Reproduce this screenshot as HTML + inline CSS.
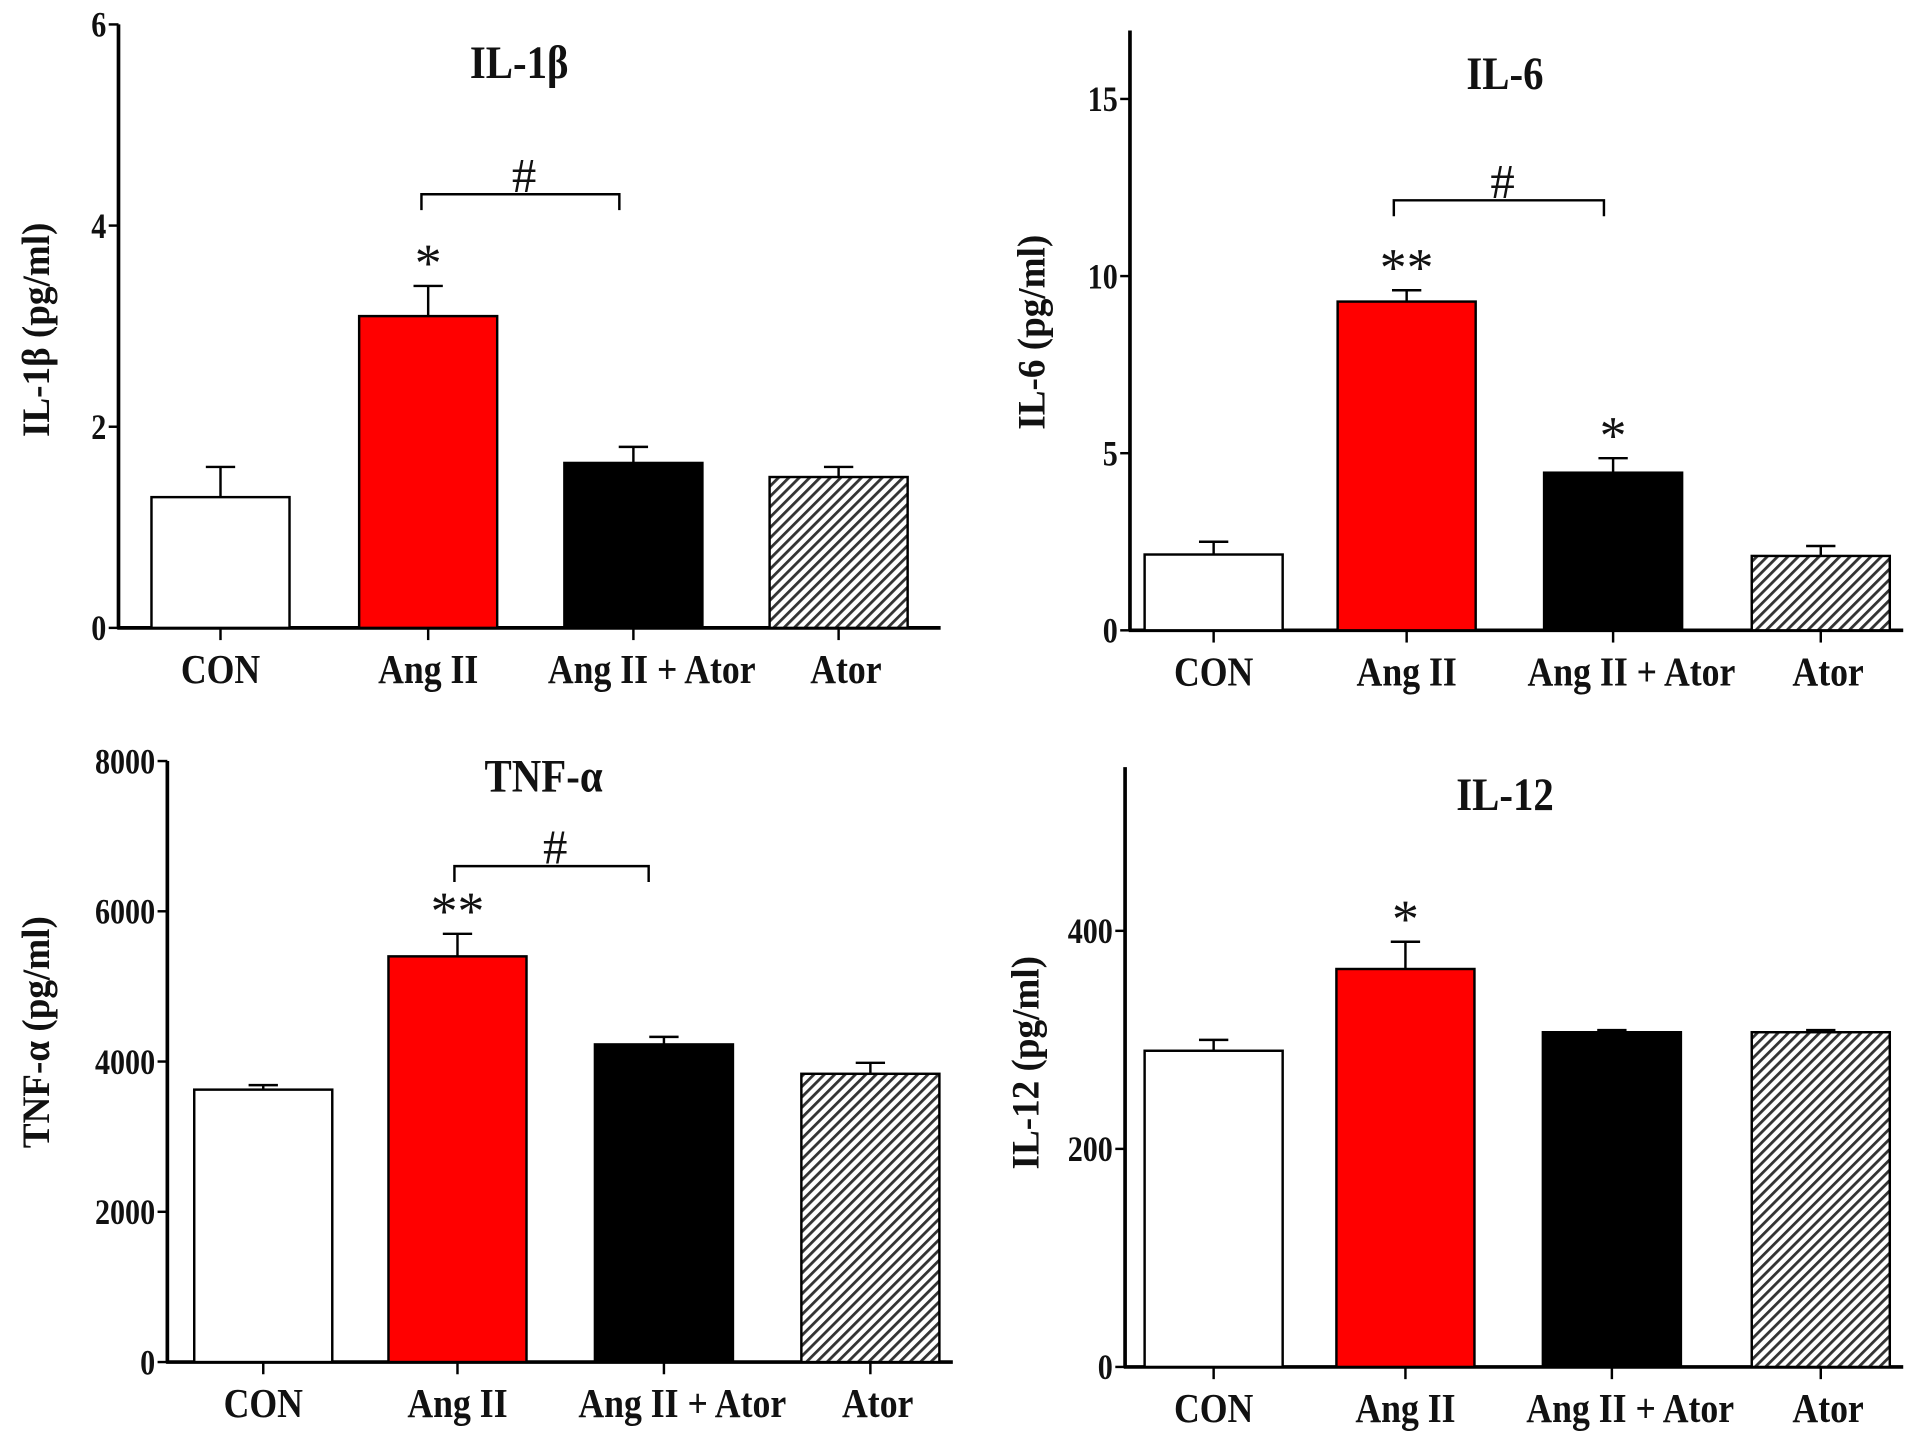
<!DOCTYPE html>
<html><head><meta charset="utf-8"><style>
html,body{margin:0;padding:0;background:#fff}
svg{display:block}
text{font-family:"Liberation Serif",serif;font-weight:bold;fill:#111}
</style></head><body>
<svg id="c" width="1913" height="1450" viewBox="0 0 1566 1187" preserveAspectRatio="none" xmlns="http://www.w3.org/2000/svg">
<defs>
<pattern id="hatch" patternUnits="userSpaceOnUse" width="6" height="6" patternTransform="rotate(45)">
<rect width="6" height="6" fill="#fff"/><rect x="0" width="2.3" height="6" fill="#333"/>
</pattern>
</defs>
</svg>
<script>
const categories=["CON","Ang II","Ang II + Ator","Ator"];
const il1bValues=[1.3,3.1,1.64,1.5];
const il1bErrors=[0.3,0.3,0.16,0.1];
const il1bTicks=[0,2,4,6];
const il6Values=[2.14,9.28,4.45,2.1];
const il6Errors=[0.36,0.32,0.41,0.28];
const il6Ticks=[0,5,10,15];
const tnfValues=[3626,5400,4228,3837];
const tnfErrors=[60,300,100,146];
const tnfTicks=[0,2000,4000,6000,8000];
const il12Values=[290,365,307,307];
const il12Errors=[10,25,2,2];
const il12Ticks=[0,200,400];
const fills=["#fff","#ff0000","#000","url(#hatch)"];
const svg=document.getElementById('c');
const NS="http://www.w3.org/2000/svg";
function mk(tag,attrs,parent){const e=document.createElementNS(NS,tag);for(const k in attrs)e.setAttribute(k,attrs[k]);(parent||svg).appendChild(e);return e;}
function txt(s,x,y,size,parent,anchor,rot,sx){
  sx=sx||1;
  const t=mk('text',{x:0,y:0,'font-size':size,'text-anchor':anchor||'middle'},parent);
  t.setAttribute('transform',`translate(${x} ${y})`+(rot?' rotate(-90)':'')+` scale(${sx} 1)`);
  t.textContent=s;return t;}
function panel(p){
  const g=mk('g',{});
  
  
  const y=v=>p.y0-(v/p.max)*(p.y0-p.yTop);
  const ax=mk('line',{x1:p.ax,y1:p.yTop,x2:p.ax,y2:p.y0+1,stroke:'#000','stroke-width':3},g);
  
  
  const xa=mk('line',{x1:p.ax-1,y1:p.y0,x2:p.xEnd,y2:p.y0,stroke:'#000','stroke-width':3},g);
  
  
  p.ticks.forEach(t=>{
    mk('line',{x1:p.ax-8,y1:y(t),x2:p.ax,y2:y(t),stroke:'#000','stroke-width':2},g);
    const tl=txt(String(t),p.ax-10,y(t)+10,29,g,'end',false,0.85);
    
    
  });
  p.values.forEach((v,i)=>{
    const x0=p.bx[i],w=p.bw,cx=x0+w/2;
    const top=y(v),et=y(v+p.errors[i]);
    mk('line',{x1:cx,y1:top,x2:cx,y2:et,stroke:'#000','stroke-width':2},g);
    mk('line',{x1:cx-12,y1:et,x2:cx+12,y2:et,stroke:'#000','stroke-width':2},g);
    const r=mk('rect',{x:x0,y:top,width:w,height:p.y0-top,fill:fills[i],stroke:'#000','stroke-width':2},g);
    
    
    mk('line',{x1:cx,y1:p.y0,x2:cx,y2:p.y0+10,stroke:'#000','stroke-width':2},g);
    const cl=txt(categories[i],cx+(i==2?15:(i==3?6:0)),p.y0+45,34,g,'middle',false,0.86);
    
    
    if(p.stars[i]){const s=txt(p.stars[i],cx,et-4,44,g,'middle',false,1);
      s.style.fontWeight='normal';
      
      }
  });
  const tt=txt(p.title,p.tx,p.ty,38,g,'middle',false,0.88);
  
  
  const yl=txt(p.ylabel,p.lx,p.ly,32,g,'middle',true,0.95);
  
  
  if(p.br){const b=p.br;
    const pl=mk('polyline',{points:`${b[0]},${b[2]+13} ${b[0]},${b[2]} ${b[1]},${b[2]} ${b[1]},${b[2]+13}`,fill:'none',stroke:'#000','stroke-width':2},g);
    
    
    const h=mk('text',{x:(b[0]+b[1])/2+3,y:b[2]-2,'font-size':40,'text-anchor':'middle'},g);
    h.style.fontWeight='normal';h.textContent='#';
    
    }
}
panel({name:'il1b-panel',values:il1bValues,errors:il1bErrors,ticks:il1bTicks,max:6,ax:97,yTop:20,y0:514,xEnd:770,bx:[124,294,462,630],bw:113,
  stars:['','*','',''],title:'IL-1β',tx:425,ty:64,ylabel:'IL-1β  (pg/ml)',lx:40,ly:270,br:[345,507,159]});
panel({name:'il6-panel',values:il6Values,errors:il6Errors,ticks:il6Ticks,max:(516-25)/29,ax:925,yTop:25,y0:516,xEnd:1558,bx:[937,1095,1264,1434],bw:113,
  stars:['','**','*',''],title:'IL-6',tx:1232,ty:73,ylabel:'IL-6  (pg/ml)',lx:855,ly:272,br:[1141,1313,164]});
panel({name:'tnf-panel',values:tnfValues,errors:tnfErrors,ticks:tnfTicks,max:8000,ax:137,yTop:623,y0:1115,xEnd:780,bx:[159,318,487,656],bw:113,
  stars:['','**','',''],title:'TNF-α',tx:445,ty:648,ylabel:'TNF-α   (pg/ml)',lx:40,ly:845,br:[372,531,709]});
panel({name:'il12-panel',values:il12Values,errors:il12Errors,ticks:il12Ticks,max:(1119-628)/0.8925,ax:921,yTop:628,y0:1119,xEnd:1558,bx:[937,1094,1263,1434],bw:113,
  stars:['','*','',''],title:'IL-12',tx:1232,ty:663,ylabel:'IL-12 (pg/ml)',lx:850,ly:870});
</script>
</body></html>
